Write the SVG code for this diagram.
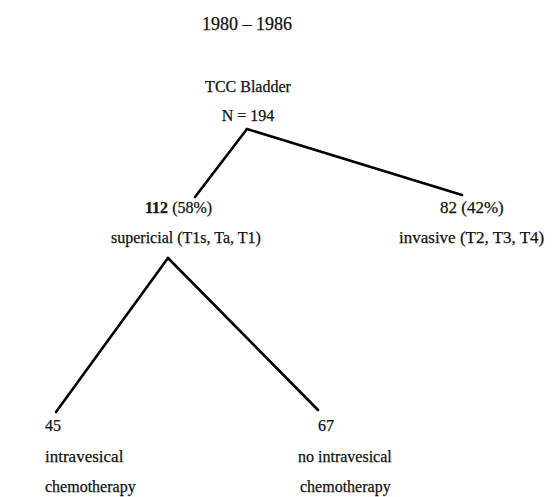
<svg xmlns="http://www.w3.org/2000/svg" width="552" height="497" viewBox="0 0 552 497">
<style>
text{font-family:"Liberation Serif","Times New Roman",serif;font-size:16px;fill:#111;stroke:#111;stroke-width:0.25}
.c{text-anchor:middle}
.b{font-weight:bold}
.conn line{stroke:#000;stroke-width:2.6;stroke-linecap:round}
</style>
<rect width="552" height="497" fill="#fff"/>
<g id="title"><text class="c" x="247" y="30" style="font-size:18px">1980 – 1986</text></g>
<g id="root"><text class="c" x="248" y="92">TCC Bladder</text><text class="c" x="248" y="121">N = 194</text></g>
<g id="superficial"><text x="145" y="213"><tspan class="b">112</tspan> (58%)</text><text x="111" y="243">supericial (T1s, Ta, T1)</text></g>
<g id="invasive"><text x="440" y="213" style="font-size:17px">82 (42%)</text><text x="399" y="243" style="font-size:17px">invasive (T2, T3, T4)</text></g>
<g id="intravesical"><text x="45" y="431">45</text><text x="45" y="462" style="font-size:17px">intravesical</text><text x="45" y="492">chemotherapy</text></g>
<g id="no-intravesical"><text x="318" y="431">67</text><text x="298" y="462">no intravesical</text><text x="300" y="492">chemotherapy</text></g>
<g class="conn" id="connectors">
<line x1="247" y1="129" x2="195" y2="197"/>
<line x1="247" y1="129" x2="462" y2="195"/>
<line x1="168" y1="258" x2="56" y2="412"/>
<line x1="168" y1="258" x2="318" y2="410"/>
</g>
</svg>
